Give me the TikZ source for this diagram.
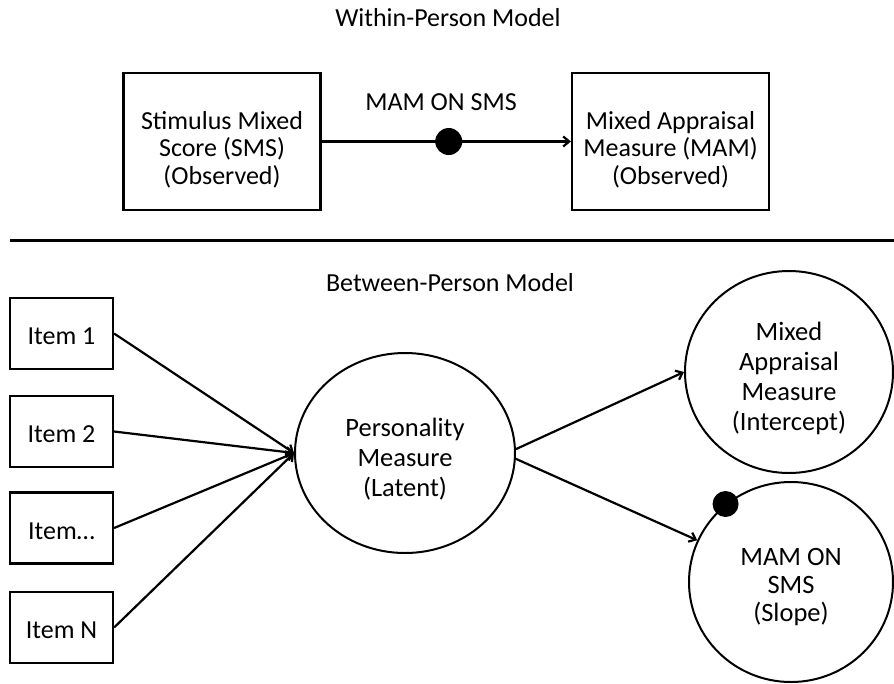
\documentclass[tikz,border=0pt]{standalone}
\usepackage{fontspec}
\setmainfont{Carlito}
\usetikzlibrary{arrows.meta,shapes.geometric}
\begin{document}
\begin{tikzpicture}[x=1pt,y=-1pt,
  txt/.style={font=\fontsize{26}{27.5}\selectfont, align=center, inner sep=0pt},
  box/.style={draw, line width=2.2pt, inner sep=0pt},
  bigbox/.style={box, minimum width=197pt, minimum height=137pt},
  itembox/.style={box, minimum width=103pt, minimum height=71pt},
  latent/.style={draw, ellipse, line width=2pt, inner sep=0pt},
  ctext/.style={label={[txt, font=\fontsize{26.5}{30}\selectfont, yshift=-6pt]center:{#1}}},
  btext/.style={label={[txt, yshift=-8pt]center:{#1}}},
  itext/.style={label={[txt, yshift=-3pt]center:{#1}}},
  conn/.style={line width=2.2pt, -{Straight Barb[length=6pt,width=10pt]}},
  dotmark/.style={circle, fill=black, inner sep=0pt, minimum size=27pt}
]
\useasboundingbox (0,0) rectangle (894,683);

\node[txt] (t1) at (448,18) {Within-Person Model};
\node[bigbox, btext={Stimulus Mixed\\Score (SMS)\\(Observed)}] (sms) at (222,141.5) {};
\node[bigbox, btext={Mixed Appraisal\\Measure (MAM)\\(Observed)}] (mam) at (670.5,141.5) {};
\draw[conn] (sms) -- (mam) node[pos=0.51, dotmark] (d1) {};
\node[txt] (lbl) at (441,102) {MAM ON SMS};

\coordinate (r1) at (10,240);
\coordinate (r2) at (894,240);
\draw[line width=3pt] (r1) -- (r2);

\node[txt] (t2) at (450,283) {Between-Person Model};

\node[itembox, itext={Item 1}] (i1) at (61.5,333.5) {};
\node[itembox, itext={Item 2}] (i2) at (61.5,431.5) {};
\node[itembox, itext={Item\ldots}] (i3) at (61.5,528) {};
\node[itembox, itext={Item N}] (i4) at (61.5,627.5) {};

\node[latent, minimum width=220pt, minimum height=200pt, ctext={Personality\\Measure\\(Latent)}] (pm) at (405,453) {};
\node[latent, minimum width=208pt, minimum height=202pt, ctext={Mixed\\Appraisal\\Measure\\(Intercept)}] (int) at (789,372) {};
\node[latent, minimum width=204pt, minimum height=200pt, label={[txt, font=\fontsize{26.5}{28}\selectfont, yshift=-5pt]center:{MAM ON\\SMS\\(Slope)}}] (slp) at (791,582) {};

\foreach \i in {i1,i2,i3,i4} \draw[conn] (\i.east) -- (pm.west);
\draw[conn] (pm.2) -- (int.west);
\draw[conn] (pm.-3) -- (slp.156);
\node[dotmark, minimum size=26pt] (d2) at (slp.130) {};
\end{tikzpicture}
\end{document}
